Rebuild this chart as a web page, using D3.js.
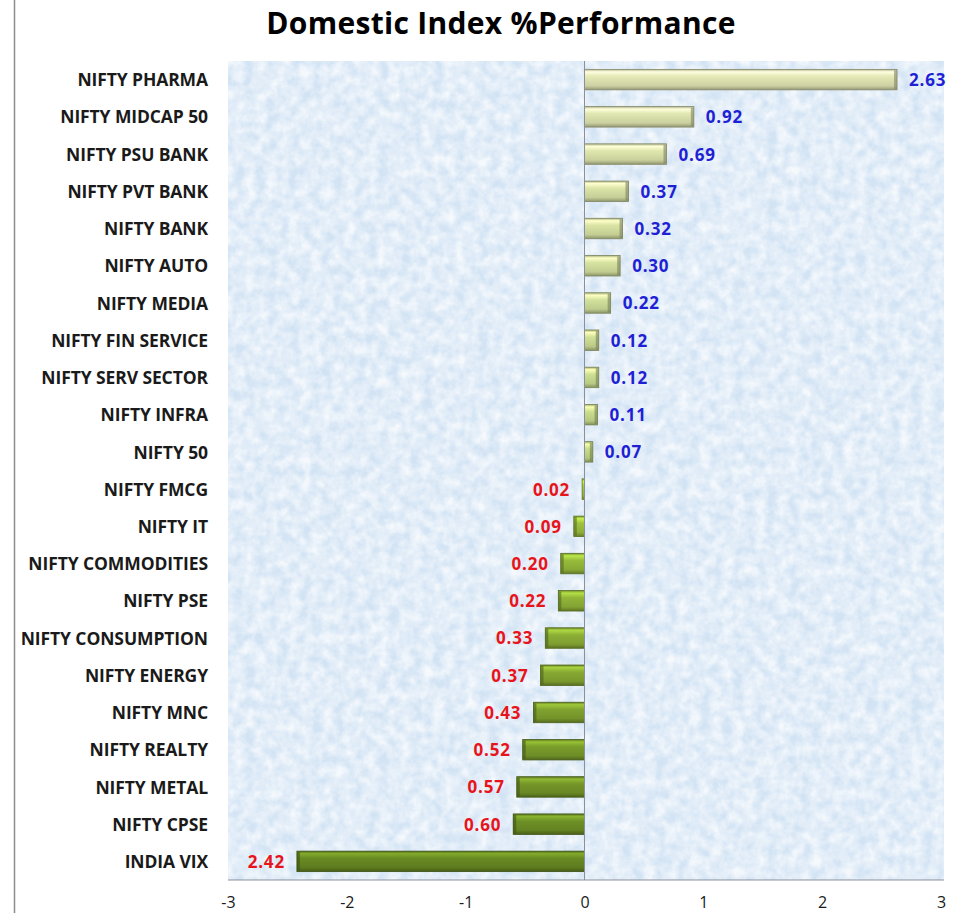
<!DOCTYPE html>
<html lang="en">
<head>
<meta charset="UTF-8">
<title>Domestic Index %Performance</title>
<script src="https://cdn.jsdelivr.net/npm/d3@7"></script>
<style>
  body { margin: 0; background: #fff; }
</style>
</head>
<body>
<script>
// data
var categories = ['NIFTY PHARMA', 'NIFTY MIDCAP 50', 'NIFTY PSU BANK', 'NIFTY PVT BANK', 'NIFTY BANK',
    'NIFTY AUTO', 'NIFTY MEDIA', 'NIFTY FIN SERVICE', 'NIFTY SERV SECTOR', 'NIFTY INFRA', 'NIFTY 50',
    'NIFTY FMCG', 'NIFTY IT', 'NIFTY COMMODITIES', 'NIFTY PSE', 'NIFTY CONSUMPTION', 'NIFTY ENERGY',
    'NIFTY MNC', 'NIFTY REALTY', 'NIFTY METAL', 'NIFTY CPSE', 'INDIA VIX'];
var values = [2.63, 0.92, 0.69, 0.37, 0.32, 0.30, 0.22, 0.12, 0.12, 0.11, 0.07,
    -0.02, -0.09, -0.20, -0.22, -0.33, -0.37, -0.43, -0.52, -0.57, -0.60, -2.42];
var tickValues = [-3, -2, -1, 0, 1, 2, 3];
var title = 'Domestic Index %Performance';

var width = 965, height = 913;
var plot = { left: 228, right: 944, top: 61, bottom: 880 };

var svg = d3.select('body').append('svg')
    .attr('width', width)
    .attr('height', height);

var defs = svg.append('defs');

// paper texture for plot background
var tex = defs.append('filter').attr('id', 'paper')
    .attr('x', 0).attr('y', 0).attr('width', '100%').attr('height', '100%');
tex.append('feTurbulence').attr('type', 'fractalNoise')
    .attr('baseFrequency', 0.09).attr('numOctaves', 3).attr('seed', 4).attr('result', 'noise');
tex.append('feColorMatrix').attr('in', 'noise').attr('type', 'matrix')
    .attr('values', '0 0 0 0 1  0 0 0 0 1  0 0 0 0 1  0 0 0 -1.6 1.25').attr('result', 'spots');
tex.append('feComposite').attr('in', 'spots').attr('in2', 'SourceGraphic').attr('operator', 'in');

// left frame line
svg.append('line')
    .attr('x1', 14.5).attr('x2', 14.5).attr('y1', 0).attr('y2', height)
    .attr('stroke', '#8c8c8c').attr('stroke-width', 1.5);

// title
svg.append('text')
    .attr('x', 501).attr('y', 34)
    .attr('text-anchor', 'middle')
    .attr('font-family', 'Open Sans, sans-serif')
    .attr('font-weight', 'bold')
    .attr('font-size', '30px')
    .attr('letter-spacing', '0.3px')
    .attr('fill', '#000')
    .text(title);

// scales
var x = d3.scaleLinear().domain([-3, 3]).range([plot.left, plot.right - 3]);
var y = d3.scaleBand().domain(categories).range([plot.top, plot.bottom]).paddingInner(0.45).paddingOuter(0.225);

// plot background
svg.append('rect')
    .attr('x', plot.left).attr('y', plot.top)
    .attr('width', plot.right - plot.left).attr('height', plot.bottom - plot.top)
    .attr('fill', '#d2e3f4');
svg.append('rect')
    .attr('x', plot.left).attr('y', plot.top)
    .attr('width', plot.right - plot.left).attr('height', plot.bottom - plot.top)
    .attr('fill', '#eef5fc')
    .attr('filter', 'url(#paper)')
    .attr('opacity', 0.8);

// bar colours: pale at top, dark olive at bottom
var colour = d3.scaleLinear()
    .domain([0, 10, 11, categories.length - 1])
    .range(['#cdd1a3', '#b3c77c', '#93b33b', '#5e7c1f']);

categories.forEach(function(c, i) {
    var base = d3.color(colour(i));
    var g = defs.append('linearGradient').attr('id', 'bar' + i)
        .attr('x1', 0).attr('x2', 0).attr('y1', 0).attr('y2', 1);
    g.append('stop').attr('offset', '0%').attr('stop-color', base.darker(0.4));
    g.append('stop').attr('offset', '12%').attr('stop-color', base.brighter(0.9));
    g.append('stop').attr('offset', '35%').attr('stop-color', base.brighter(0.3));
    g.append('stop').attr('offset', '80%').attr('stop-color', base);
    g.append('stop').attr('offset', '100%').attr('stop-color', base.darker(0.9));
});

var bars = svg.selectAll('g.bar')
    .data(values)
    .enter()
    .append('g')
    .attr('class', 'bar');

bars.append('rect')
    .attr('x', function(d) { return Math.min(x(0), x(d)); })
    .attr('y', function(d, i) { return y(categories[i]); })
    .attr('width', function(d) { return Math.max(1.5, Math.abs(x(d) - x(0))); })
    .attr('height', y.bandwidth())
    .attr('fill', function(d, i) { return 'url(#bar' + i + ')'; })
    .attr('stroke', function(d, i) { return d3.color(colour(i)).darker(1.2); })
    .attr('stroke-width', 0.8);

// bevel on the outer end of each bar
bars.append('rect')
    .attr('x', function(d) { return d >= 0 ? x(d) - 3 : x(d); })
    .attr('y', function(d, i) { return y(categories[i]) + 1; })
    .attr('width', function(d) { return Math.abs(x(d) - x(0)) > 4 ? 3 : 0; })
    .attr('height', y.bandwidth() - 2)
    .attr('fill', function(d, i) { return d3.color(colour(i)).darker(1.3); })
    .attr('opacity', 0.6);

// value labels
svg.selectAll('text.val')
    .data(values)
    .enter()
    .append('text')
    .attr('class', 'val')
    .attr('x', function(d) { return d >= 0 ? x(d) + 12 : x(d) - 12; })
    .attr('y', function(d, i) { return y(categories[i]) + y.bandwidth() / 2; })
    .attr('dy', '0.38em')
    .attr('text-anchor', function(d) { return d >= 0 ? 'start' : 'end'; })
    .attr('font-family', 'Open Sans, sans-serif')
    .attr('font-weight', 'bold')
    .attr('font-size', '17px')
    .attr('letter-spacing', '0.8px')
    .attr('fill', function(d) { return d >= 0 ? '#1f1fd6' : '#e8141b'; })
    .text(function(d) { return Math.abs(d).toFixed(2); });

// category labels
svg.selectAll('text.cat')
    .data(categories)
    .enter()
    .append('text')
    .attr('class', 'cat')
    .attr('x', 208)
    .attr('y', function(d) { return y(d) + y.bandwidth() / 2; })
    .attr('dy', '0.38em')
    .attr('text-anchor', 'end')
    .attr('font-family', 'Open Sans, sans-serif')
    .attr('font-weight', 'bold')
    .attr('font-size', '17.5px')
    .attr('letter-spacing', '-0.1px')
    .attr('fill', '#1a1a1a')
    .text(function(d) { return d; });

// zero line
svg.append('line')
    .attr('x1', x(0)).attr('x2', x(0))
    .attr('y1', plot.top).attr('y2', plot.bottom)
    .attr('stroke', '#8a8f99').attr('stroke-width', 1);

// x axis
var axis = svg.append('g')
    .attr('transform', 'translate(0,' + plot.bottom + ')')
    .call(d3.axisBottom(x).tickValues(tickValues).tickSize(0).tickPadding(17)
        .tickFormat(function(d) { return String(d); }));
axis.select('.domain')
    .attr('d', 'M' + plot.left + ',0H' + plot.right)
    .attr('stroke', '#8a8f99');
axis.selectAll('text')
    .attr('font-family', 'Open Sans, sans-serif')
    .attr('font-size', '16px')
    .attr('fill', '#1a1a1a');
</script>
</body>
</html>
